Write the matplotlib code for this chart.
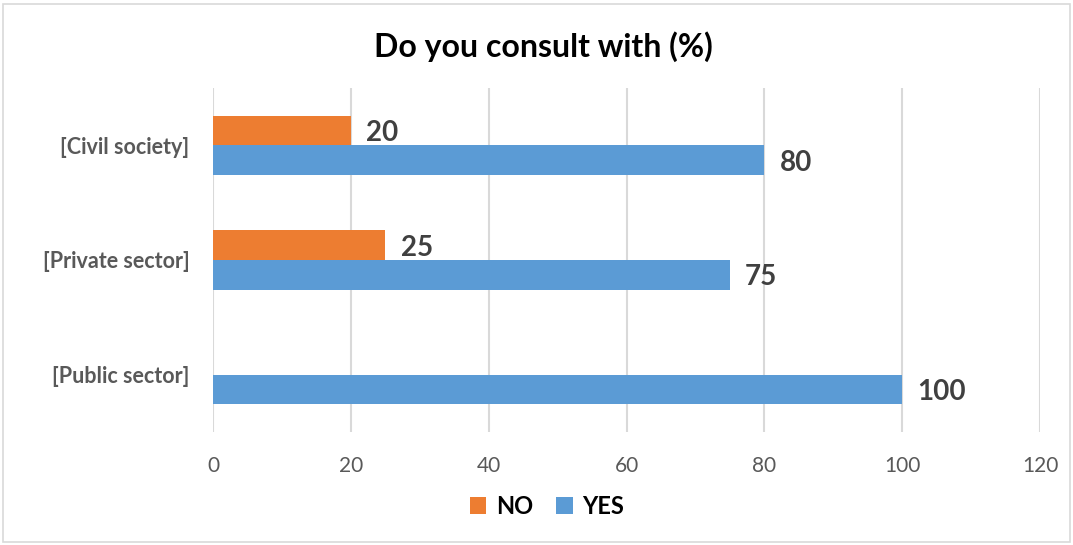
import matplotlib
matplotlib.use("Agg")
import matplotlib.pyplot as plt
import numpy as np
from matplotlib.patches import Rectangle, Patch

categories = ["[Public sector]", "[Private sector]", "[Civil society]"]
yes_values = [100, 75, 80]
no_values = [None, 25, 20]
x_ticks = [0, 20, 40, 60, 80, 100, 120]

ORANGE = "#ED7D31"
BLUE = "#5B9BD5"
GRID = "#D9D9D9"
LABEL = "#404040"
TICK = "#595959"

plt.rcParams["font.family"] = ["Lato", "DejaVu Sans"]

fig = plt.figure(figsize=(10.73, 5.45), dpi=100)
ax = fig.add_axes([213 / 1073, 1 - 432 / 545, (1040 - 213) / 1073, (432 - 88) / 545])

y = np.arange(len(categories))
h = 0.26

for i, (yv, nv) in enumerate(zip(yes_values, no_values)):
    ax.barh(y[i] - h / 2, yv, height=h, color=BLUE, zorder=3)
    ax.annotate(f"{yv}", xy=(yv, y[i] - h / 2), xytext=(11, 0), textcoords="offset points",
                ha="left", va="center_baseline", fontsize=20, fontweight="bold", color=LABEL)
    if nv is not None:
        ax.barh(y[i] + h / 2, nv, height=h, color=ORANGE, zorder=3)
        ax.annotate(f"{nv}", xy=(nv, y[i] + h / 2), xytext=(11, 0), textcoords="offset points",
                    ha="left", va="center_baseline", fontsize=20, fontweight="bold", color=LABEL)

ax.set_xlim(0, 120)
ax.set_ylim(-0.5, 2.5)
ax.set_xticks(x_ticks)
ax.set_yticks(y)
ax.set_yticklabels(categories, fontsize=15.5, fontweight="bold", color=TICK)
ax.tick_params(axis="x", length=0, pad=17, labelsize=15, labelcolor=TICK)
ax.tick_params(axis="y", length=0, pad=17)
for s in ax.spines.values():
    s.set_visible(False)
ax.grid(axis="x", color=GRID, linewidth=1.5, zorder=0)
ax.set_axisbelow(True)

fig.suptitle("Do you consult with (%)", x=543 / 1073, y=1 - 47 / 545, va="center",
             fontsize=23, fontweight="bold", color="black")

handles = [Patch(facecolor=ORANGE, label="NO"), Patch(facecolor=BLUE, label="YES")]
fig.legend(handles=handles, loc="center", bbox_to_anchor=(547 / 1073, 1 - 506 / 545), ncol=2,
           frameon=False, prop={"weight": "bold", "size": 17}, handlelength=0.7, handleheight=0.7,
           handletextpad=0.4, columnspacing=1.0)

fig.patches.append(Rectangle((3 / 1073, 3 / 545), 1 - 6 / 1073, 1 - 7 / 545, transform=fig.transFigure,
                             fill=False, edgecolor=GRID, linewidth=1.2))

fig.savefig("out.png", dpi=100, facecolor="white")
